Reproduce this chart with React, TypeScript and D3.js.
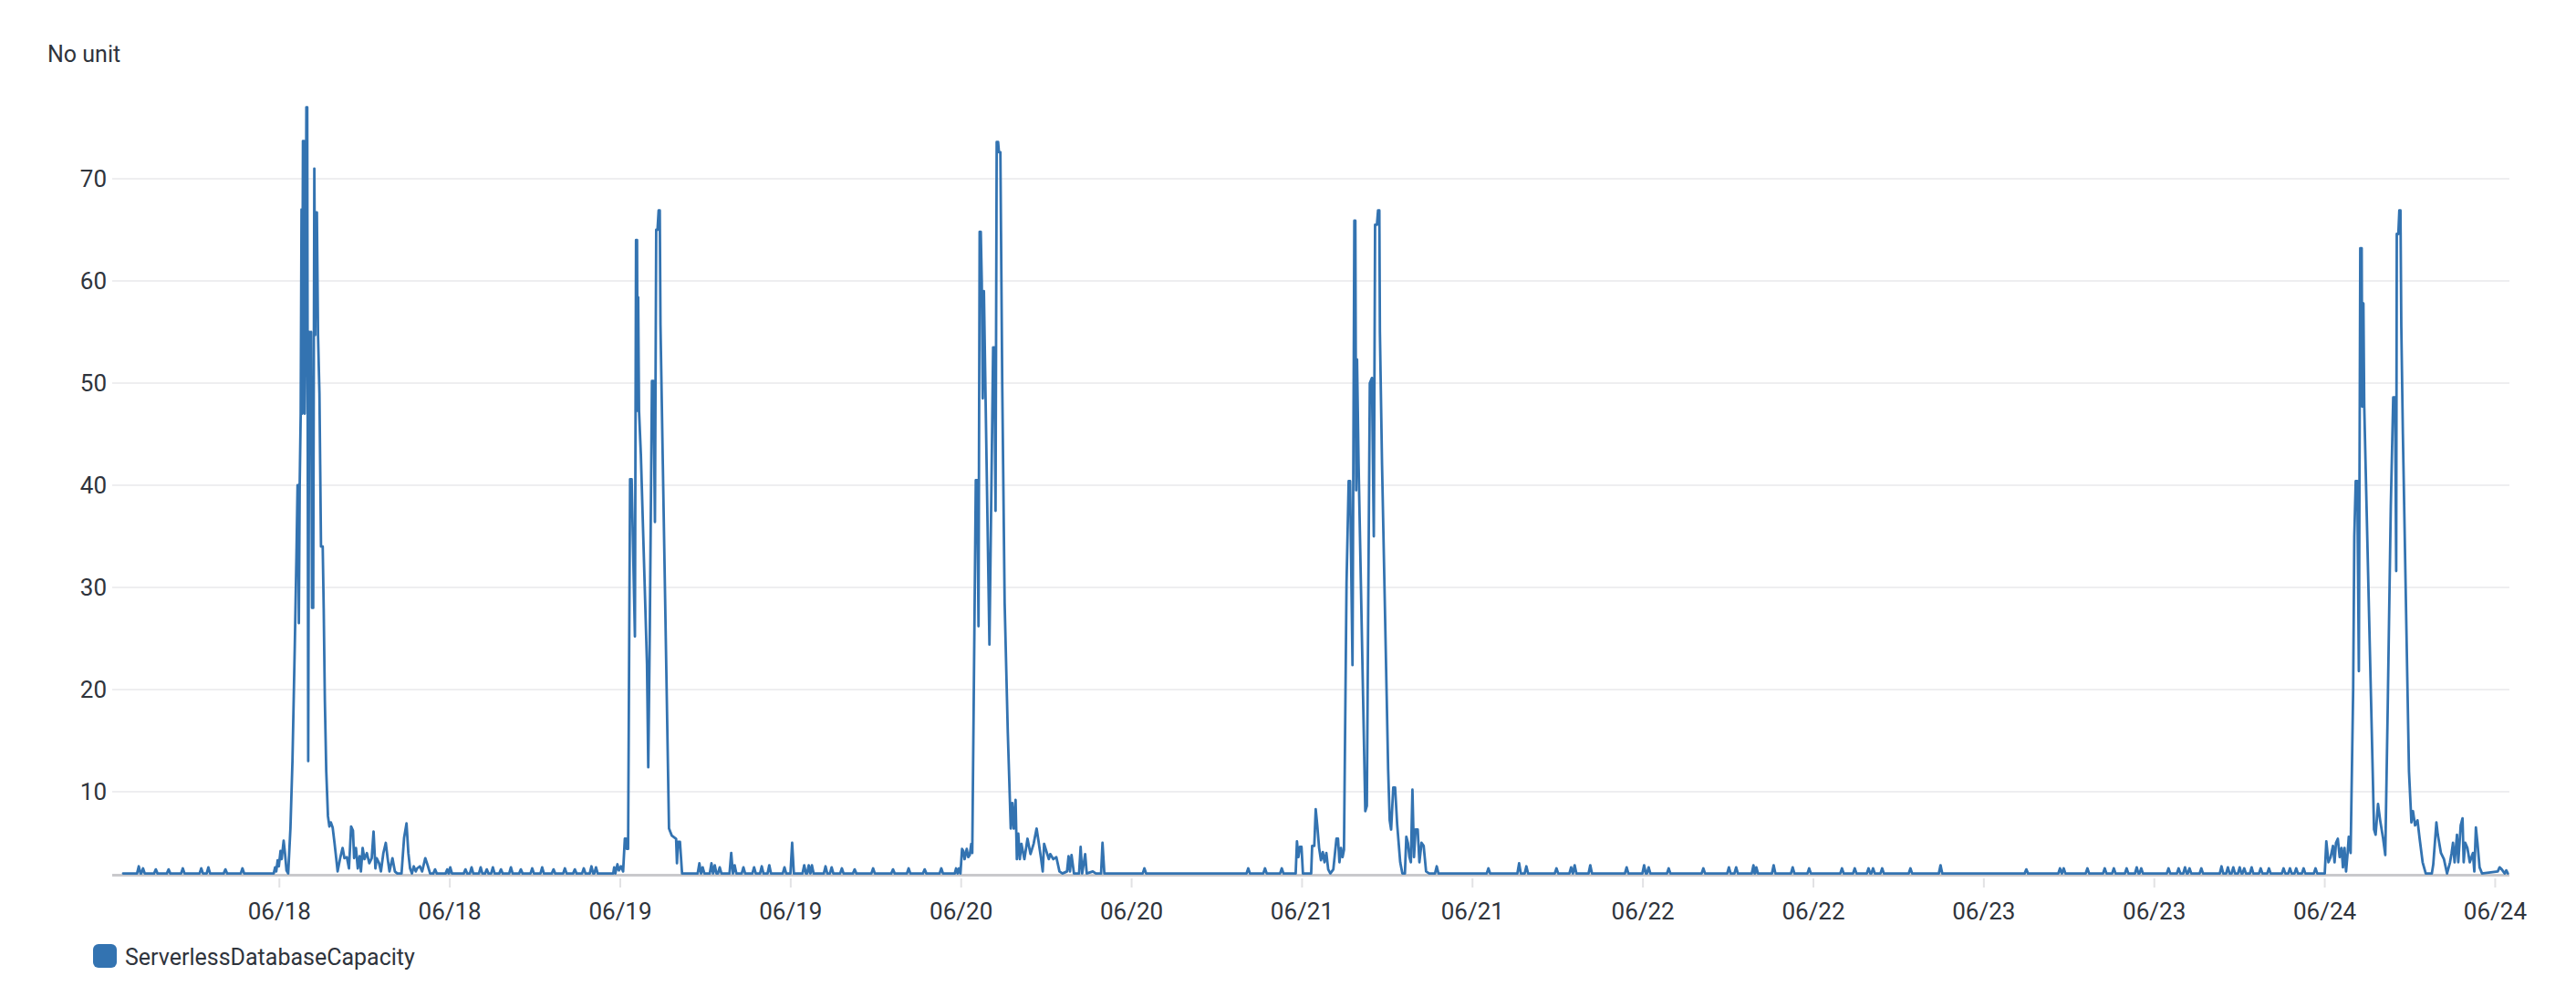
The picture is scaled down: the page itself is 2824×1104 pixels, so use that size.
import React from 'react';
import * as d3 from 'd3';

// ---- data (hours relative to 06/18 00:00 UTC, capacity value) ----
const BASE_VALUE = 2;
const START_UTC = Date.UTC(2024, 5, 18, 0, 0);
const WINDOW_HOURS = [-11, 157];
const yTickValues = [10, 20, 30, 40, 50, 60, 70];
const seriesName = 'ServerlessDatabaseCapacity';
const unitLabel = 'No unit';

const burst0618: [number, number][] = [
  [-0.4, 2], [-0.3, 2.6], [-0.22, 2.2], [-0.12, 3.3], [-0.04, 2.7], [0.08, 4.2], [0.16, 3.4], [0.3, 5.2], [0.4, 3.9],
  [0.5, 2.3], [0.62, 2.0], [0.78, 6.5], [0.92, 13], [1.08, 24], [1.2, 33], [1.28, 40], [1.33, 40], [1.37, 26.5],
  [1.43, 40], [1.5, 47], [1.56, 67], [1.6, 47], [1.66, 73.7], [1.73, 73.7], [1.78, 47], [1.84, 55], [1.9, 77],
  [1.96, 77], [2.03, 13], [2.1, 55], [2.17, 47], [2.23, 55], [2.3, 28], [2.38, 28], [2.46, 71], [2.52, 54.7],
  [2.58, 66.7], [2.64, 66.7], [2.72, 54.7], [2.82, 49], [2.93, 34], [3.05, 34], [3.12, 28], [3.2, 19], [3.3, 12],
  [3.42, 7.6], [3.52, 6.6], [3.62, 7.0], [3.75, 6.5], [3.88, 5.0], [4.0, 3.5], [4.1, 2.2], [4.28, 3.5], [4.45, 4.5],
  [4.58, 3.5], [4.75, 3.6], [4.9, 2.5], [5.05, 6.6], [5.18, 6.2], [5.26, 3.5], [5.39, 4.5], [5.52, 2.5], [5.65, 3.7],
  [5.74, 2.2], [5.86, 4.5], [5.99, 3.4], [6.16, 4.0], [6.33, 3.0], [6.5, 3.5], [6.63, 6.1], [6.76, 2.5], [6.85, 3.5],
  [7.02, 3.0], [7.15, 2.2], [7.32, 4.0], [7.49, 5.0], [7.62, 3.5], [7.75, 2.2], [7.96, 3.5], [8.13, 2.2], [8.3, 2],
  [8.6, 2], [8.78, 5.5], [8.95, 6.9], [9.08, 4.0], [9.2, 2.5], [9.33, 2], [9.46, 2.7], [9.6, 2.2], [9.7, 2.5],
  [9.89, 2.7], [10.05, 2.2], [10.27, 3.5], [10.44, 2.8], [10.61, 2],
];

const burst0619: [number, number][] = [
  [23.5, 2], [23.57, 2.6], [23.65, 2], [23.8, 2.9], [23.9, 2.3], [24.05, 2.7], [24.2, 2.2], [24.32, 5.4], [24.4, 5.4],
  [24.46, 4.4], [24.55, 4.4], [24.69, 40.6], [24.8, 40.6], [25.03, 25.2], [25.11, 64], [25.18, 64], [25.22, 47.3],
  [25.26, 58.4], [25.32, 47.3], [25.45, 43], [25.88, 22.5], [25.97, 12.4], [26.08, 26], [26.23, 50.2], [26.33, 50.2],
  [26.44, 36.4], [26.53, 65], [26.62, 65], [26.7, 66.9], [26.78, 66.9], [26.83, 55.7], [27.43, 6.4], [27.63, 5.7],
  [27.93, 5.4], [27.99, 3.0], [28.07, 5.1], [28.2, 5.1], [28.35, 2],
];

const burst0620: [number, number][] = [
  [47.55, 2], [47.64, 2.5], [47.75, 2.0], [47.85, 2.5], [47.95, 2.0], [48.06, 4.4], [48.15, 4.2], [48.24, 3.4],
  [48.39, 4.4], [48.5, 3.6], [48.6, 3.8], [48.71, 4.9], [48.78, 4.0], [48.88, 18.4], [49.03, 40.5], [49.13, 40.5],
  [49.22, 26.2], [49.3, 64.8], [49.38, 64.8], [49.45, 60], [49.52, 48.5], [49.6, 59], [49.99, 24.4], [50.25, 53.5],
  [50.33, 53.5], [50.42, 37.5], [50.5, 73.6], [50.6, 73.6], [50.66, 72.6], [50.76, 72.6], [50.89, 50], [51.06, 28.5],
  [51.28, 15.9], [51.49, 6.4], [51.6, 8.9], [51.7, 6.4], [51.83, 9.2], [51.92, 3.4], [52.02, 5.9], [52.13, 3.4],
  [52.24, 4.9], [52.45, 3.4], [52.67, 5.4], [52.88, 3.9], [53.1, 4.9], [53.31, 6.4], [53.42, 5.4], [53.63, 3.4],
  [53.74, 2.2], [53.84, 4.9], [54.06, 3.9], [54.17, 3.4], [54.27, 3.9], [54.49, 3.4], [54.7, 3.6], [54.92, 2.2],
  [55.13, 2], [55.45, 2.2], [55.56, 3.7], [55.66, 2.2], [55.77, 3.8], [55.94, 2], [56.3, 2], [56.41, 4.6], [56.52, 2],
  [56.73, 3.9], [56.84, 2], [57.27, 2.2], [57.48, 2], [57.85, 2], [57.95, 5.0], [58.08, 2],
];

const burst0621: [number, number][] = [
  [71.55, 2], [71.64, 5.15], [71.74, 3.6], [71.85, 4.6], [71.96, 4.6], [72.06, 2.0], [72.64, 2.0], [72.71, 4.7],
  [72.86, 4.7], [72.96, 8.3], [73.07, 6.7], [73.2, 4.5], [73.33, 3.3], [73.46, 4.1], [73.58, 3.1], [73.71, 4.0],
  [73.84, 2.4], [73.99, 2.0], [74.2, 2.4], [74.42, 5.4], [74.53, 5.4], [74.63, 3.1], [74.74, 4.5], [74.85, 3.6],
  [74.95, 4.3], [75.13, 30.4], [75.28, 40.4], [75.38, 40.4], [75.55, 22.4], [75.68, 65.9], [75.75, 65.9],
  [75.81, 39.5], [75.87, 52.3], [75.98, 42], [76.45, 8.1], [76.56, 8.6], [76.77, 50.0], [76.92, 50.5], [77.05, 35.0],
  [77.14, 65.5], [77.27, 65.5], [77.35, 66.9], [77.44, 66.9], [77.48, 55.0], [77.63, 42], [78.06, 12.2], [78.17, 7.2],
  [78.27, 6.3], [78.42, 10.4], [78.55, 10.4], [78.7, 6.7], [78.91, 3.1], [79.06, 2.0], [79.24, 2.0], [79.34, 5.6],
  [79.45, 5.0], [79.56, 3.6], [79.66, 3.1], [79.77, 10.2], [79.88, 3.6], [79.99, 6.3], [80.14, 6.3], [80.26, 3.1],
  [80.41, 5.0], [80.56, 4.7], [80.73, 2.2], [80.95, 2.0],
];

const burst0624: [number, number][] = [
  [144.0, 2], [144.11, 5.15], [144.26, 3.1], [144.41, 3.6], [144.58, 4.7], [144.69, 3.1], [144.79, 5.0], [144.92, 5.4],
  [145.05, 3.6], [145.18, 4.5], [145.28, 2.6], [145.39, 4.5], [145.5, 2.2], [145.61, 4.0], [145.69, 5.6], [145.82, 4.0],
  [146.0, 20], [146.08, 35], [146.18, 40.4], [146.29, 40.4], [146.4, 21.8], [146.5, 63.2], [146.6, 63.2],
  [146.64, 47.7], [146.72, 57.8], [146.78, 47.7], [147.47, 6.3], [147.58, 5.8], [147.75, 8.8], [147.9, 7.2],
  [148.11, 5.4], [148.26, 3.8], [148.43, 18], [148.65, 38], [148.82, 48.6], [148.95, 48.6], [149.03, 31.6],
  [149.07, 64.6], [149.18, 64.6], [149.25, 66.9], [149.33, 66.9], [149.39, 55.5], [149.5, 45], [149.93, 12],
  [150.1, 7.0], [150.21, 8.1], [150.36, 6.7], [150.53, 7.2], [150.68, 5.4], [150.89, 3.1], [151.11, 2.0],
  [151.54, 2.0], [151.64, 2.9], [151.86, 7.0], [151.96, 5.8], [152.18, 4.0], [152.39, 3.4], [152.61, 2.0],
  [152.82, 3.1], [152.93, 4.0], [153.03, 5.0], [153.14, 3.1], [153.31, 5.8], [153.4, 3.1], [153.57, 6.7],
  [153.7, 7.4], [153.78, 3.1], [153.89, 5.0], [154.04, 4.5], [154.21, 3.1], [154.43, 4.0], [154.53, 2.2],
  [154.64, 6.5], [154.75, 5.0], [154.9, 2.6], [155.07, 2.0], [156.18, 2.2], [156.31, 2.6], [156.46, 2.4],
  [156.67, 2.0], [156.78, 2.3], [156.89, 2.0],
];

// isolated single-sample blips on the idle baseline
const baselineBlips: [number, number][] = [
  [-9.9, 2.7], [-9.6, 2.5], [-8.7, 2.4], [-7.8, 2.4], [-6.8, 2.5], [-5.5, 2.5], [-5.0, 2.6], [-3.8, 2.4], [-2.6, 2.5],
  [10.96, 2.4], [11.82, 2.4], [12.03, 2.6], [13.1, 2.4], [13.53, 2.6], [14.17, 2.6], [14.6, 2.4], [15.03, 2.6],
  [15.6, 2.4], [16.3, 2.6], [17.0, 2.4], [17.8, 2.5], [18.5, 2.6], [19.3, 2.4], [20.1, 2.5], [20.8, 2.4],
  [21.43, 2.5], [21.97, 2.7], [22.29, 2.6],
  [29.57, 3.0], [29.8, 2.6], [30.42, 3.0], [30.65, 2.8], [31.0, 2.6], [31.81, 4.0], [32.05, 2.8], [32.67, 2.6],
  [33.42, 2.6], [33.96, 2.7], [34.49, 2.8], [35.56, 2.6], [36.1, 5.0], [36.95, 2.8], [37.27, 2.8], [37.49, 2.8],
  [38.45, 2.7], [38.88, 2.6], [39.6, 2.5], [40.5, 2.4], [41.8, 2.5], [43.2, 2.4], [44.3, 2.5], [45.43, 2.4], [46.6, 2.5],
  [60.9, 2.5], [68.21, 2.5], [69.39, 2.5], [70.57, 2.5],
  [81.48, 2.7], [85.12, 2.5], [87.28, 3.0], [87.79, 2.7], [89.91, 2.5], [90.94, 2.6], [91.19, 2.8], [92.29, 2.8],
  [94.85, 2.6], [96.08, 2.8], [96.4, 2.6], [97.81, 2.5], [100.25, 2.5], [102.05, 2.6], [102.56, 2.6], [103.78, 2.8],
  [103.98, 2.6], [105.2, 2.8], [106.54, 2.6], [107.7, 2.5], [110.01, 2.5], [110.91, 2.5], [111.88, 2.5], [112.2, 2.5],
  [112.84, 2.5], [114.83, 2.5], [116.95, 2.8], [122.99, 2.4], [125.36, 2.5], [125.62, 2.5], [127.29, 2.5],
  [128.51, 2.5], [129.15, 2.5], [130.05, 2.5], [130.76, 2.6], [131.08, 2.5], [133.0, 2.5], [133.71, 2.5],
  [134.16, 2.6], [134.48, 2.5], [135.31, 2.5], [136.73, 2.7], [137.18, 2.6], [137.56, 2.6], [138.01, 2.6],
  [138.33, 2.5], [138.85, 2.6], [139.49, 2.5], [140.07, 2.5], [141.1, 2.5], [141.55, 2.5], [141.99, 2.5],
  [142.51, 2.5], [143.35, 2.5],
];

const BLIP_HALF_WIDTH = 0.12; // hours (one sample each side at baseline)

function buildSeries(): [number, number][] {
  const pts: [number, number][] = [[WINDOW_HOURS[0], BASE_VALUE]];
  [burst0618, burst0619, burst0620, burst0621, burst0624].forEach((b) => b.forEach((p) => pts.push(p)));
  baselineBlips.forEach(([t, v]) => {
    pts.push([t - BLIP_HALF_WIDTH, BASE_VALUE]);
    pts.push([t, v]);
    pts.push([t + BLIP_HALF_WIDTH, BASE_VALUE]);
  });
  pts.sort((a, b) => a[0] - b[0]);
  return pts;
}

const hourToDate = (h: number) => new Date(START_UTC + h * 3600e3);

export default function App() {
  const W = 2824;
  const H = 1104;
  const plotLeft = 135;
  const plotRight = 2751;
  const gridLeft = 123;

  const x = d3.scaleUtc()
    .domain([hourToDate(WINDOW_HOURS[0]), hourToDate(WINDOW_HOURS[1])])
    .range([plotLeft, plotRight]);
  const y = d3.scaleLinear().domain([2, 78]).range([957.6, 106.4]);

  const series = buildSeries();
  const line = d3.line<[number, number]>()
    .x((d) => x(hourToDate(d[0])))
    .y((d) => y(d[1]));

  const xTicks = d3.utcHour.every(12)!.range(hourToDate(0), hourToDate(WINDOW_HOURS[1]));
  const fmt = d3.utcFormat('%m/%d');
  const font = "Roboto, 'Open Sans', sans-serif";
  const textColor = '#2f343c';
  const lineColor = '#3373b1';
  const baseY = y(BASE_VALUE);

  return (
    <svg width={W} height={H} style={{ position: 'absolute', left: 0, top: 0, background: '#fff' }}>
      <rect x={0} y={0} width={W} height={H} fill="#ffffff" />
      <text x={52} y={68} fontFamily={font} fontSize={25} fill={textColor}>{unitLabel}</text>
      {yTickValues.map((v) => (
        <g key={v}>
          <line x1={gridLeft} x2={plotRight} y1={y(v)} y2={y(v)} stroke="#e8e9eb" strokeWidth={1.6} />
          <text x={117} y={y(v)} dy="0.35em" textAnchor="end" fontFamily={font} fontSize={26} fill={textColor}>{v}</text>
        </g>
      ))}
      <line x1={gridLeft} x2={plotRight} y1={baseY + 2} y2={baseY + 2} stroke="#c9c9cc" strokeWidth={3} />
      {xTicks.map((d, i) => (
        <g key={i}>
          <line x1={x(d)} x2={x(d)} y1={963} y2={973} stroke="#e2e2e4" strokeWidth={2} />
          <text x={x(d)} y={1008} textAnchor="middle" fontFamily={font} fontSize={26} fill={textColor}>{fmt(d)}</text>
        </g>
      ))}
      <path d={line(series) || ''} fill="none" stroke={lineColor} strokeWidth={2.8} strokeLinejoin="round" strokeLinecap="round" />
      <rect x={102} y={1035} width={26} height={26} rx={6} fill={lineColor} />
      <text x={137} y={1058} fontFamily={font} fontSize={25} fill={textColor}>{seriesName}</text>
    </svg>
  );
}
